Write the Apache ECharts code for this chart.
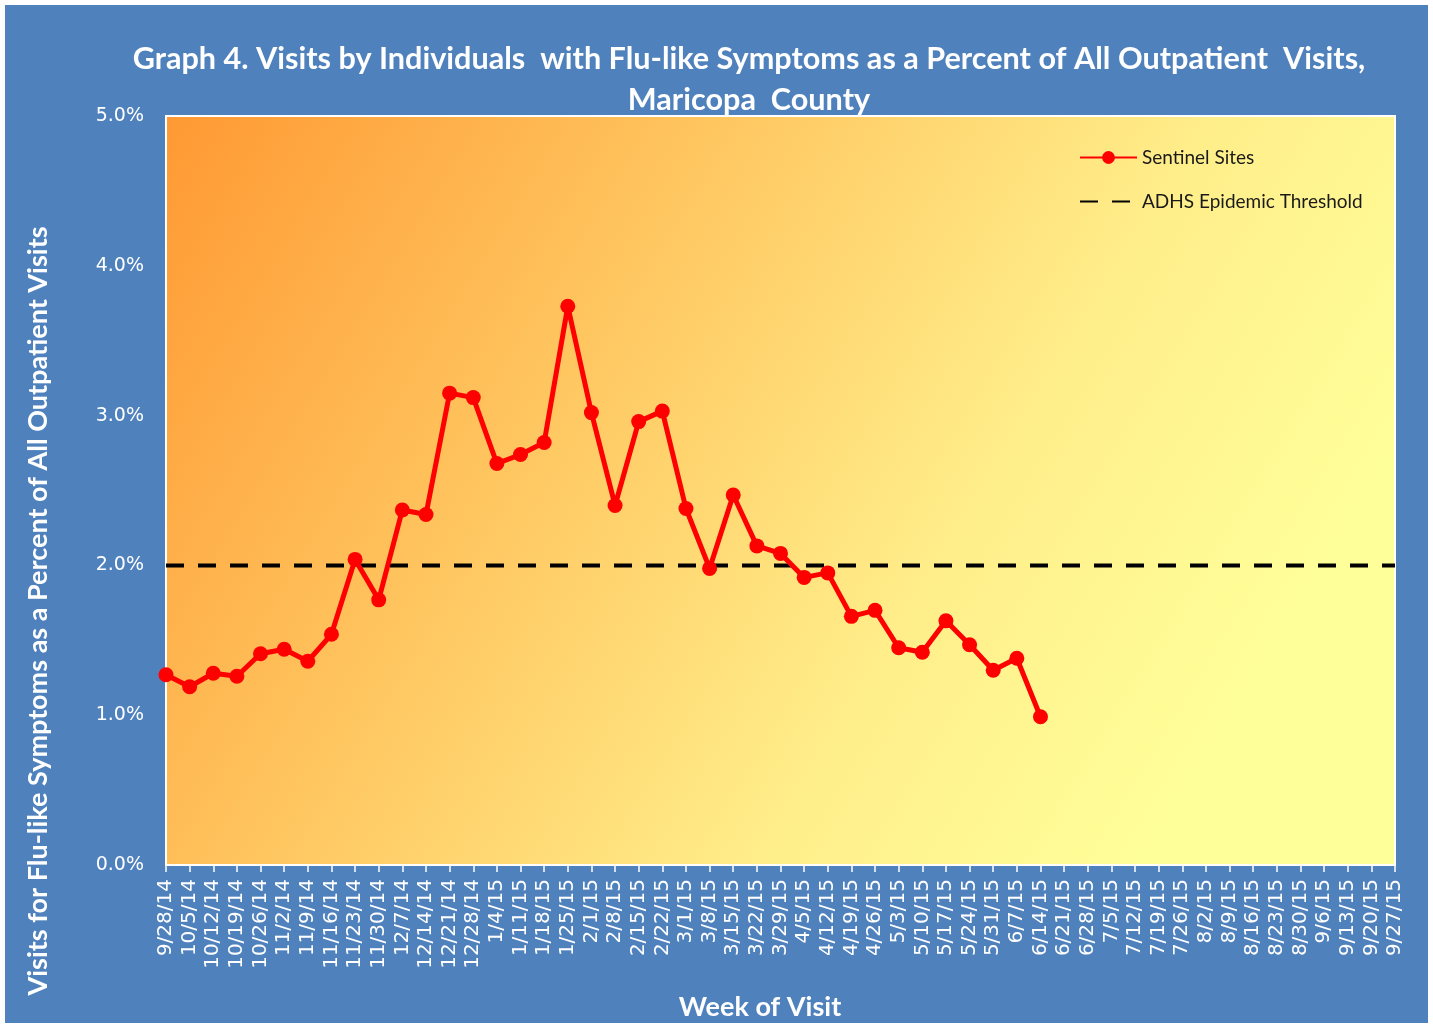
<!DOCTYPE html>
<html>
<head>
<meta charset="utf-8">
<script src="https://cdn.jsdelivr.net/npm/echarts@6/dist/echarts.min.js"></script>
<style>
  html, body { margin: 0; padding: 0; background: #ffffff; }
  #echarts_container { position: absolute; left: 5px; top: 5px; width: 1423px; height: 1018px; }
</style>
</head>
<body>
<div id="echarts_container"></div>
<script>
var chartDom = document.getElementById('echarts_container');
var myChart = echarts.init(chartDom);
var option;

// week labels, 9/28/14 .. 9/27/15
let weeks = ['9/28/14', '10/5/14', '10/12/14', '10/19/14', '10/26/14', '11/2/14', '11/9/14', '11/16/14',
  '11/23/14', '11/30/14', '12/7/14', '12/14/14', '12/21/14', '12/28/14', '1/4/15', '1/11/15', '1/18/15',
  '1/25/15', '2/1/15', '2/8/15', '2/15/15', '2/22/15', '3/1/15', '3/8/15', '3/15/15', '3/22/15', '3/29/15',
  '4/5/15', '4/12/15', '4/19/15', '4/26/15', '5/3/15', '5/10/15', '5/17/15', '5/24/15', '5/31/15', '6/7/15',
  '6/14/15', '6/21/15', '6/28/15', '7/5/15', '7/12/15', '7/19/15', '7/26/15', '8/2/15', '8/9/15', '8/16/15',
  '8/23/15', '8/30/15', '9/6/15', '9/13/15', '9/20/15', '9/27/15']

// percent of visits, sentinel sites (reported weeks only)
let sentinel = [1.27, 1.19, 1.28, 1.26, 1.41, 1.44, 1.36, 1.54, 2.04, 1.77, 2.37, 2.34, 3.15, 3.12,
  2.68, 2.74, 2.82, 3.73, 3.02, 2.40, 2.96, 3.03, 2.38, 1.98, 2.47, 2.13, 2.08, 1.92, 1.95, 1.66,
  1.70, 1.45, 1.42, 1.63, 1.47, 1.30, 1.38, 0.99]

// ADHS epidemic threshold, same every week
let thresholdValue = 2.0
let threshold = weeks.map(() => thresholdValue)

let yTicks = [0, 1, 2, 3, 4, 5]

const titleFont = 'Lato'
const tickFont = 'DejaVu Sans'

option = {
    backgroundColor: '#4F81BD',
    legend: {
        orient: 'vertical',
        left: 1069,
        top: 138,
        itemGap: 25,
        itemWidth: 57,
        itemHeight: 16,
        data: [
            { name: 'Sentinel Sites' },
            { name: 'ADHS Epidemic Threshold', itemStyle: { opacity: 0 } }
        ],
        textStyle: {
            color: '#1a1a1a',
            fontFamily: titleFont,
            fontSize: 19
        }
    },
    grid: {
        left: 161,
        top: 111,
        width: 1229,
        height: 749,
        show: true,
        borderColor: '#FFFFFF',
        borderWidth: 2,
        backgroundColor: new echarts.graphic.LinearGradient(0, 0, 1, 1, [
            { offset: 0, color: '#FF9933' },
            { offset: 0.3, color: '#FFC25C' },
            { offset: 0.62, color: '#FFEE8A' },
            { offset: 0.85, color: '#FFFF99' },
            { offset: 1, color: '#FFFF99' }
        ]),
        containLabel: false
    },
    xAxis: {
        type: 'category',
        boundaryGap: false,
        data: weeks,
        axisLine: { show: true, lineStyle: { color: '#FFFFFF', width: 2 } },
        axisTick: { show: true, alignWithLabel: true, length: 7, lineStyle: { color: '#FFFFFF', width: 1.5 } },
        axisLabel: {
            rotate: 90,
            interval: 0,
            margin: 14,
            color: '#FFFFFF',
            fontFamily: tickFont,
            fontSize: 20
        },
        splitLine: { show: false }
    },
    yAxis: {
        type: 'value',
        min: yTicks[0],
        max: yTicks[yTicks.length - 1],
        interval: 1,
        axisLine: { show: false },
        axisTick: { show: false },
        splitLine: { show: false },
        axisLabel: {
            margin: 22,
            color: '#FFFFFF',
            fontFamily: tickFont,
            fontSize: 19,
            formatter: function (v) { return v.toFixed(1) + '%' }
        }
    },
    graphic: [
        {
            // chart title
            type: 'text',
            x: 744,
            y: 34,
            style: {
                text: 'Graph 4. Visits by Individuals  with Flu-like Symptoms as a Percent of All Outpatient  Visits,\nMaricopa  County',
                fill: '#FFFFFF',
                font: 'bold 30.6px ' + titleFont,
                lineHeight: 41,
                textAlign: 'center',
                textVerticalAlign: 'top'
            }
        },
        {
            // y axis title
            type: 'text',
            x: 33,
            y: 606,
            rotation: Math.PI / 2,
            style: {
                text: 'Visits for Flu-like Symptoms as a Percent of All Outpatient Visits',
                fill: '#FFFFFF',
                font: 'bold 27px ' + titleFont,
                textAlign: 'center',
                textVerticalAlign: 'middle'
            }
        },
        {
            // x axis title
            type: 'text',
            x: 755,
            y: 1002,
            style: {
                text: 'Week of Visit',
                fill: '#FFFFFF',
                font: 'bold 27px ' + titleFont,
                textAlign: 'center',
                textVerticalAlign: 'middle'
            }
        }
    ],
    series: [
        {
            name: 'Sentinel Sites',
            type: 'line',
            data: sentinel,
            symbol: 'circle',
            symbolSize: 15,
            itemStyle: { color: '#FF0000' },
            lineStyle: { color: '#FF0000', width: 5 },
            z: 3
        },
        {
            name: 'ADHS Epidemic Threshold',
            type: 'line',
            data: threshold,
            symbol: 'none',
            itemStyle: { color: '#000000' },
            lineStyle: { color: '#000000', width: 4, type: [18, 14] },
            z: 2
        }
    ]
};

option && myChart.setOption(option);
</script>
</body>
</html>
